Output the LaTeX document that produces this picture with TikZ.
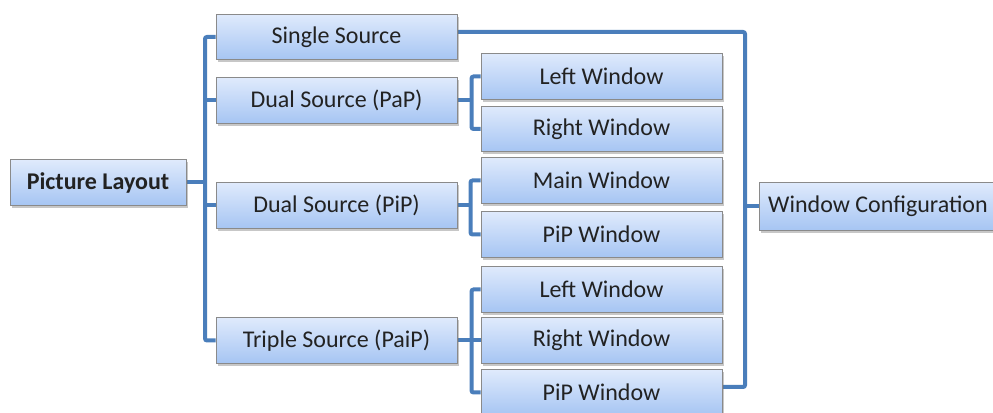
\documentclass[tikz,border=0pt]{standalone}
\usepackage{fontspec}
\setmainfont{Carlito}
\usetikzlibrary{shadows,calc,backgrounds}
\definecolor{connc}{HTML}{4A7EBB}
\definecolor{boxtop}{HTML}{DFEAFC}
\definecolor{boxbot}{HTML}{A6C5F3}
\definecolor{boxline}{HTML}{8A8A8A}
\definecolor{txt}{HTML}{222222}
\begin{document}
\begin{tikzpicture}[x=0.75pt,y=-0.75pt,
  box/.style={draw=boxline, line width=0.7pt, top color=boxtop, bottom color=boxbot,
    minimum width=180.75pt, minimum height=34pt, inner sep=0pt, text=txt,
    font=\fontsize{18}{20}\selectfont,
    drop shadow={shadow xshift=1.2pt, shadow yshift=-1.8pt, opacity=0.4, fill=black!55}},
  link/.style={draw=connc, line width=3pt, rounded corners=1.5pt}]
\path[use as bounding box, clip] (0,0) rectangle (993,413);
% left column
\node[box, minimum width=132pt, font=\fontsize{18}{20}\selectfont\bfseries] (PL) at (98,182.5) {Picture Layout};
\node[box] (SS) at (336.5,37) {Single Source};
\node[box] (PaP) at (336.5,100.5) {Dual Source (PaP)};
\node[box] (PiPs) at (336.5,205.5) {Dual Source (PiP)};
\node[box] (TS) at (336.5,340.5) {Triple Source (PaiP)};
% right column
\node[box, minimum height=35pt] (LW1) at (601.5,76.5) {Left Window};
\node[box] (RW1) at (601.5,129) {Right Window};
\node[box] (MW) at (601.5,180.5) {Main Window};
\node[box] (PW1) at (601.5,234.5) {PiP Window};
\node[box] (LW2) at (601.5,289.5) {Left Window};
\node[box] (RW2) at (601.5,340.5) {Right Window};
\node[box] (PW2) at (601.5,392.5) {PiP Window};
\node[box, minimum height=36pt] (WC) at (878,206.5) [minimum width=178pt] {Window Configuration};
% trunks
\coordinate (LT) at (205,37);
\coordinate (RTtop) at (745,32);
\coordinate (RTbot) at (745,387);
\begin{scope}[on background layer]
% left trunk
\draw[link] (SS.west) -- (LT) |- (TS.west);
\draw[link] (PaP.west) -- (PaP.west -| LT);
\draw[link] (PiPs.west) -- (PiPs.west -| LT);
\draw[link] (PL.east) -- (PL.east -| LT);
% PaP bracket
\draw[link] (LW1.west) -- ++(-9,0) |- (RW1.west);
\draw[link] (PaP.east) -- ([xshift=-6.75pt]LW1.west |- PaP.east);
% PiP bracket
\draw[link] (MW.west) -- ++(-10,0) |- (PW1.west);
\draw[link] (PiPs.east) -- ([xshift=-7.5pt]MW.west |- PiPs.east);
% Triple bracket
\draw[link] (LW2.west) -- ++(-9,0) |- (PW2.west);
\draw[link] (TS.east) -- (RW2.west);
% right trunk
\draw[link] ($(SS.east)+(0,-5)$) -- (RTtop) -- (RTbot) -- ($(PW2.east)+(0,-5.5)$);
\draw[link] ($(LW1.east)+(0,5.5)$) -- ($(LW1.east)+(0,5.5)$ -| RTtop);
\draw[link] ($(RW1.east)+(0,6)$) -- ($(RW1.east)+(0,6)$ -| RTtop);
\draw[link] ($(MW.east)+(0,1.5)$) -- ($(MW.east)+(0,1.5)$ -| RTtop);
\draw[link] ($(PW1.east)+(0,-1.5)$) -- ($(PW1.east)+(0,-1.5)$ -| RTtop);
\draw[link] ($(LW2.east)+(0,-9.5)$) -- ($(LW2.east)+(0,-9.5)$ -| RTtop);
\draw[link] ($(RW2.east)+(0,-7.5)$) -- ($(RW2.east)+(0,-7.5)$ -| RTtop);
\draw[link] (WC.west) -- (WC.west -| RTtop);
\end{scope}
\end{tikzpicture}
\end{document}
